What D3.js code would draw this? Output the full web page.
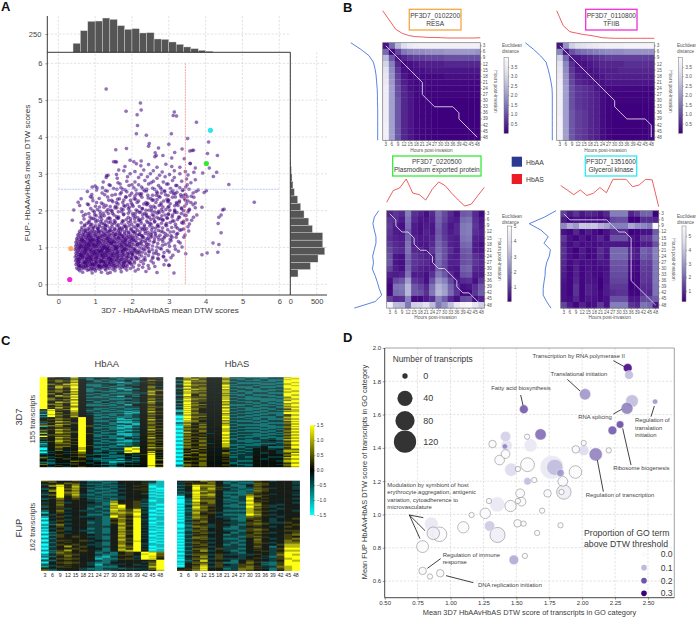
<!DOCTYPE html>
<html><head><meta charset="utf-8">
<script src="https://cdnjs.cloudflare.com/ajax/libs/d3/7.8.5/d3.min.js"></script>
<style>html,body{margin:0;padding:0;background:#fff}svg{display:block;font-family:"Liberation Sans",Arial,sans-serif}</style>
</head><body><div id="c"></div>
<script>
// ---------- Panel A data (x,y pairs in hundredths of a DTW score)
const scatterXY = [
58,37,66,33,79,38,92,31,101,36,117,33,129,39,141,32,154,37,171,34,186,39,209,36,134,30,88,39,
50,44,54,41,59,47,63,42,68,49,71,43,75,46,82,41,86,48,90,44,93,42,99,47,104,43,109,49,112,41,118,45,123,48,127,42,133,46,138,43,143,49,148,41,155,45,161,48,168,42,173,46,181,44,187,48,196,43,204,47,217,41,229,46,246,43,262,48,57,48,77,49,97,41,114,46,131,49,151,47,177,49,
48,54,51,58,56,52,60,57,62,51,67,55,70,59,74,52,78,56,81,51,85,58,88,53,91,57,95,51,98,55,103,59,106,52,111,57,115,53,119,50,122,58,126,54,130,51,134,57,137,53,142,59,146,52,150,56,157,53,163,58,166,51,172,55,178,59,183,52,190,56,199,53,207,58,219,52,231,56,244,51,258,58,287,53,301,52,73,57,93,53,110,51,128,59,153,51,176,52,194,59,
47,64,50,68,54,62,57,67,61,63,65,69,69,61,72,66,76,63,80,68,83,62,87,67,90,64,94,69,97,62,100,66,105,63,108,69,113,61,116,66,120,63,124,68,127,62,132,67,135,64,139,61,144,68,147,63,152,66,156,61,160,69,165,64,170,67,175,62,180,68,185,64,192,61,198,67,206,63,213,68,224,62,236,66,252,63,272,68,292,65,55,60,78,69,103,60,122,61,141,66,158,65,182,61,
46,74,49,78,53,71,56,76,60,73,63,79,66,72,70,77,73,74,77,71,80,78,84,73,88,76,91,71,95,79,99,74,102,72,106,77,110,73,114,79,117,71,121,76,125,73,129,78,133,72,136,76,140,71,145,78,149,74,153,72,158,77,162,73,167,79,171,74,176,71,181,78,186,73,191,76,197,72,203,78,210,74,218,71,226,77,235,73,245,78,257,74,270,71,285,76,306,72,65,75,83,75,118,78,137,71,174,78,200,71,
48,84,51,88,55,81,58,86,62,83,65,89,69,82,72,87,76,84,79,81,83,88,86,83,90,86,93,81,97,89,101,84,104,82,108,87,112,83,116,89,119,81,123,86,127,83,131,88,135,82,138,86,142,81,147,88,151,84,155,82,160,87,164,83,169,89,173,84,178,81,183,88,188,83,193,86,199,82,205,88,212,84,220,81,228,87,237,83,247,88,259,84,272,81,287,86,60,81,96,87,121,84,146,83,175,87,201,81,215,87,
46,94,49,98,53,91,56,96,60,93,63,99,67,92,70,97,74,94,77,91,81,98,84,93,88,96,91,91,95,99,99,94,102,92,106,97,110,93,114,99,117,91,121,96,125,93,129,98,133,92,136,96,140,91,145,98,149,94,153,92,158,97,162,93,167,99,171,94,176,91,181,98,186,93,191,96,197,92,203,98,210,94,218,91,226,97,235,93,245,98,255,94,266,91,280,96,296,92,318,95,72,99,89,93,108,91,132,96,156,98,179,95,208,92,232,96,
47,104,50,108,54,101,57,106,61,103,64,109,68,102,71,107,75,104,78,101,82,108,85,103,89,106,92,101,96,109,100,104,103,102,107,107,111,103,115,109,118,101,122,106,126,103,130,108,134,102,137,106,141,101,146,108,150,104,154,102,159,107,163,103,168,109,172,104,177,101,182,108,187,103,192,106,198,102,204,108,211,104,219,101,227,107,236,103,246,108,256,104,268,101,283,106,302,103,83,105,105,108,126,101,160,101,185,106,214,108,241,101,
48,114,51,118,55,111,59,116,62,113,66,119,70,112,73,117,77,114,80,111,84,118,87,113,91,116,94,111,98,119,102,114,105,112,109,117,113,113,117,119,120,111,124,116,128,113,132,118,136,112,139,116,143,111,148,118,152,114,156,112,161,117,165,113,170,119,174,114,179,111,184,118,189,113,194,116,200,112,206,118,213,114,221,111,229,117,238,113,248,118,258,114,270,111,284,116,300,112,326,116,88,119,111,115,145,112,176,117,199,119,224,113,
50,124,54,128,58,121,62,126,65,123,69,129,73,122,76,127,80,124,83,121,87,128,90,123,94,126,97,121,101,129,105,124,108,122,112,127,116,123,120,129,123,121,127,126,131,123,135,128,139,122,142,126,146,121,151,128,155,124,159,122,164,127,168,123,173,129,177,124,182,121,187,128,192,123,197,126,203,122,209,128,216,124,224,121,232,127,241,123,251,128,261,124,273,121,287,126,304,122,320,128,
53,134,57,138,61,131,66,136,70,133,74,139,78,132,82,137,86,134,90,131,94,138,98,133,102,136,106,131,110,139,114,134,118,132,122,137,126,133,131,139,135,131,139,136,143,133,148,138,152,132,156,136,161,131,166,138,171,134,175,132,180,137,185,133,191,139,196,134,202,131,208,138,214,133,221,136,228,132,236,138,244,134,254,131,264,137,276,133,290,138,306,132,
58,144,63,148,68,141,73,146,78,143,84,149,89,142,93,147,98,144,103,141,108,148,113,143,118,146,123,141,128,149,133,144,138,142,143,147,149,143,154,149,159,141,164,146,169,143,174,148,180,142,185,146,191,141,197,148,203,144,209,142,215,147,222,143,229,149,236,144,244,141,253,148,262,143,272,146,284,142,297,148,313,143,330,147,
64,154,72,158,80,151,86,156,94,153,101,159,108,152,113,157,121,154,127,151,133,158,140,153,146,156,153,151,159,159,166,154,172,152,178,157,185,153,192,159,198,151,205,156,211,153,218,158,225,152,233,156,240,151,248,158,256,154,264,152,273,157,283,153,294,159,308,154,324,152,340,150,352,156,
62,167,71,161,83,168,91,163,102,169,111,162,119,166,128,161,137,168,146,163,155,169,163,162,172,166,181,161,190,168,199,163,208,169,216,162,225,166,234,161,243,168,252,163,261,169,270,162,280,166,291,161,304,168,318,163,335,167,356,164,
70,177,84,172,95,179,107,173,118,176,129,171,141,178,152,173,163,179,174,172,185,176,196,171,207,178,218,173,229,179,240,172,251,176,262,171,273,178,284,173,296,179,310,172,324,176,340,171,362,174,
68,186,86,183,99,189,113,182,125,186,138,181,151,188,164,183,177,189,190,182,203,186,216,181,229,188,242,183,255,189,268,182,281,186,295,181,310,188,327,183,347,187,367,182,
64,197,83,192,98,196,114,191,131,198,147,193,163,197,178,191,194,199,209,192,224,196,239,191,254,198,269,193,284,197,299,191,316,199,334,192,352,196,376,188,
42,202,88,206,106,203,124,209,143,201,159,208,176,203,193,209,211,202,228,206,246,201,263,208,280,203,298,209,316,202,334,207,356,204,372,208,
58,214,79,218,101,212,122,217,141,211,162,218,181,212,201,216,220,211,241,218,259,212,279,216,300,211,321,218,343,212,366,216,390,209,
38,174,54,223,94,227,117,221,137,228,158,222,178,229,198,221,218,226,238,222,258,229,279,221,298,227,321,222,345,228,372,221,
62,232,87,238,111,233,134,237,161,231,183,238,206,232,227,236,251,233,273,239,295,231,318,237,342,233,368,236,
91,244,119,248,146,242,171,249,194,241,221,246,243,242,269,248,291,243,317,246,341,242,361,239,
79,252,104,256,133,253,159,258,186,251,211,256,239,253,261,258,289,252,311,254,339,257,374,252,396,249,
92,264,120,262,150,260,175,258,205,262,230,259,256,261,280,258,305,260,330,262,355,258,380,256,402,254,
100,267,138,270,168,272,192,268,218,270,245,272,272,268,298,272,322,268,350,270,
122,278,162,276,186,280,208,278,235,282,258,280,285,278,310,282,335,280,360,276,
130,290,160,288,188,292,218,290,242,292,268,288,290,292,315,290,348,286,372,284,
135,296,158,298,195,300,225,298,250,300,275,296,302,298,330,300,352,297,
131,295,164,310,178,308,208,306,232,310,258,308,282,305,315,308,345,306,368,304,392,302,
150,333,155,333,158,332,195,337,205,333,212,327,224,322,245,325,268,318,292,326,308,320,330,318,358,328,372,316,410,316,
181,320,225,335,262,346,284,350,308,343,342,341,358,328,405,355,432,350,
156,365,185,369,247,382,245,375,272,370,300,380,336,367,357,362,363,363,367,364,263,357,266,350,316,358,
130,530,223,492,225,473,184,470,214,460,315,468,312,458,321,457,215,431,375,440,212,409,239,405,307,409,351,396,408,386,
430,304,421,293,463,271,532,223,450,204,446,202,442,188,436,182,434,165,442,140,420,112,436,108,433,87,404,85,390,80,314,31,268,32,238,35,300,52,
];
// second reading of the same cloud: the dense middle and upper body
const scatterBodyXY = [
55,52,61,78,67,47,74,91,79,60,85,112,92,55,98,83,103,71,109,127,114,64,120,96,126,52,131,88,137,117,142,73,148,58,153,104,159,82,164,126,170,67,176,93,181,115,187,74,192,130,197,58,
58,99,64,121,70,84,76,108,81,133,87,66,93,120,99,103,105,79,111,48,116,92,122,74,128,133,133,98,139,55,144,113,150,78,155,135,161,89,166,60,172,108,178,128,183,96,189,66,194,110,200,87,
56,68,62,104,68,116,73,59,78,97,83,128,89,75,95,108,100,53,106,119,112,88,117,62,123,101,129,79,134,124,140,92,145,66,151,116,156,96,162,75,167,135,173,102,179,57,184,123,190,82,195,102,201,126,
206,96,211,73,216,109,221,88,226,132,231,66,236,118,241,109,246,90,251,135,256,71,261,116,266,84,271,128,276,98,281,122,286,74,291,109,296,133,301,88,306,118,311,79,316,104,321,136,326,90,331,112,336,101,341,128,346,83,
203,142,209,118,214,160,219,135,224,172,229,128,234,150,239,186,244,125,249,166,254,140,259,178,264,132,269,158,274,195,279,144,284,176,289,130,294,165,299,190,304,142,309,128,314,172,319,156,324,138,329,182,334,148,339,166,344,134,349,175,354,145,
72,148,78,165,85,140,90,178,96,155,103,186,109,144,115,170,122,193,128,158,134,178,140,146,146,199,152,166,158,184,165,150,171,205,177,172,183,156,190,193,196,178,203,212,209,184,215,199,221,176,228,205,234,192,240,216,247,182,253,205,259,187,265,222,272,198,278,178,284,210,290,188,297,224,303,201,309,183,316,213,322,195,329,226,335,205,342,188,348,219,355,201,
88,162,94,200,100,176,106,152,112,210,118,185,124,164,130,214,136,192,142,170,148,224,154,207,160,179,166,232,172,197,178,214,184,236,190,205,196,228,202,192,208,240,214,222,220,195,226,246,232,218,238,201,244,234,250,212,256,242,262,196,268,230,274,214,280,248,286,226,292,203,298,241,304,219,310,236,316,195,322,250,328,223,334,238,340,200,346,244,352,226,
74,190,82,216,92,235,104,222,113,198,126,243,135,203,145,228,155,212,168,245,175,222,188,216,199,247,210,231,223,242,234,254,243,220,255,228,267,251,276,236,288,254,300,229,313,246,325,214,337,255,350,238,360,222,
105,262,128,255,141,268,155,244,170,262,182,256,200,270,213,246,226,264,240,258,252,276,266,242,277,262,294,272,306,250,319,268,332,243,346,264,366,248,
];
const hotGenes = [[0.34,0.97,"#f6ae5e"],[0.31,0.13,"#f025d8"],[4.13,4.18,"#2ee6ef"],[4.02,3.28,"#35e835"]];
const topHistCounts = [123,295,423,427,468,450,364,314,323,264,268,182,177,141,109,73,50,27,14];
const rightHistCounts = [146,380,525,652,614,614,418,348,260,196,139,76,50,32,19,6];
const thresholdX = 3.45, thresholdY = 2.58;

// ---------- Panel B data
const hours = [3,6,9,12,15,18,21,24,27,30,33,36,39,42,45,48];
const resaMatrix = [
[.2,1.3,2.5,3.2,3.5,3.6,3.7,3.7,3.7,3.7,3.7,3.7,3.7,3.7,3.7,3.7],
[1.3,.1,.9,1.5,1.7,1.8,1.8,1.9,1.9,1.9,2,2,2,2,2,1.9],
[2.5,1.1,.3,.5,.7,.8,.8,.9,.9,.9,1,1,1,1,1,1],
[3,1.6,.5,.1,.2,.3,.4,.4,.4,.4,.5,.5,.5,.5,.5,.5],
[3.3,1.8,.7,.2,.1,.2,.2,.3,.3,.3,.3,.3,.3,.3,.3,.3],
[3.4,1.9,.8,.3,.1,.1,.1,.1,.1,.1,.2,.2,.2,.2,.2,.2],
[3.5,2,.9,.4,.2,.1,.1,.1,.1,.1,.1,.1,.1,.1,.1,.1],
[3.6,2.1,1,.5,.2,.1,.1,.05,.05,.05,.05,.05,.05,.05,.05,.05],
[3.6,2.1,1,.5,.3,.1,.05,.05,.05,.05,.05,.05,.05,.05,.05,.05],
[3.6,2.1,1.1,.5,.3,.1,.05,.05,0,0,0,0,0,0,0,0],
[3.6,2.1,1.1,.5,.3,.1,.05,.05,0,0,0,0,0,0,0,0],
[3.6,2.1,1.1,.5,.3,.1,.05,.05,0,0,0,0,0,0,0,0],
[3.6,2.1,1.1,.5,.3,.1,.05,.05,0,0,0,0,0,0,0,0],
[3.7,2.1,1.1,.5,.3,.1,.05,.05,0,0,0,0,0,0,0,0],
[3.7,2.1,1.1,.5,.3,.1,.05,.05,0,0,0,0,0,0,0,0],
[3.7,2.1,1.1,.5,.3,.1,.05,.05,0,0,0,0,0,0,0,0]];
const tfiibMatrix = [
[.2,1.9,2.9,3.2,3.3,3.4,3.5,3.6,3.7,3.7,3.7,3.8,3.8,3.8,3.8,3.8],
[1.7,.3,1,1.3,1.4,1.5,1.6,1.7,1.8,1.8,1.8,1.9,1.9,1.9,1.9,1.9],
[2.9,1.3,.3,.3,.4,.5,.6,.7,.8,.8,.8,.8,.8,.8,.8,.8],
[3.3,1.7,.6,.2,.2,.3,.4,.5,.5,.5,.5,.6,.6,.6,.6,.6],
[3.4,1.8,.7,.3,.2,.2,.3,.4,.4,.4,.5,.5,.5,.5,.5,.5],
[3.5,1.9,.8,.4,.3,.2,.2,.3,.4,.4,.4,.4,.4,.4,.4,.4],
[3.6,2,.9,.5,.4,.3,.2,.2,.3,.3,.3,.3,.3,.3,.3,.3],
[3.7,2.1,1,.7,.6,.5,.3,.1,.1,.1,.1,.1,.1,.1,.1,.1],
[3.7,2.1,1,.7,.6,.5,.4,.15,.05,.05,.05,.05,.05,.05,.05,.05],
[3.7,2.1,1,.7,.6,.5,.4,.15,.05,.05,.05,.05,.05,.05,.05,.05],
[3.7,2.1,1,.7,.6,.5,.4,.15,.05,0,0,0,0,0,0,0],
[3.7,2.1,1.1,.8,.7,.5,.4,.15,.05,0,0,0,0,0,0,0],
[3.8,2.1,1.1,.8,.7,.5,.4,.15,.05,0,0,0,0,0,0,0],
[3.8,2.1,1.1,.8,.7,.5,.4,.15,.05,0,0,0,0,0,0,0],
[3.8,2.1,1.1,.8,.7,.5,.4,.15,.05,0,0,0,0,0,0,0],
[3.8,2.1,1.1,.8,.7,.5,.4,.15,.05,0,0,0,0,0,0,0]];
const exportedMatrix = [
[.6,.9,.7,2,.8,.6,.3,.7,1.7,1.2,.7,.3,1.4,1.5,.7,.2],
[.9,.8,.5,1.8,.7,.4,.4,.6,1.6,1.1,.6,.5,1.7,1.8,.8,.4],
[1,.5,.3,1.7,.5,.3,.5,.4,1.5,.9,.4,.7,1.9,2,.9,.5],
[.9,.5,.4,1.5,.5,.3,.6,.4,1.4,.9,.5,.7,1.9,2,.8,.6],
[.8,.6,.5,1.6,.6,.4,.5,.6,1.5,1,.6,.5,1.8,1.9,.6,.5],
[1,.7,.6,1.8,.5,.4,.4,.7,1.6,1.2,.6,.5,1.6,1.7,.5,.3],
[1.2,.8,.7,1.8,.7,.6,.3,.9,1.7,1.3,.8,.4,1.4,1.5,.5,.4],
[1.3,.4,.3,1.6,.9,.7,.6,.5,1.8,1.3,.6,.5,1.3,1.4,.8,.6],
[1.4,.4,.3,1.5,.9,.8,.7,.4,1.7,1.2,.6,.6,1.3,1.4,.9,.7],
[1.1,.5,.3,1.6,.8,.6,.5,.5,1.5,1.1,.5,.4,1.5,1.6,.7,.6],
[.6,.5,.6,1.8,.5,.5,.3,.8,1.9,1.4,.7,.3,1.3,1.4,.5,.5],
[.3,1.2,1.4,2.6,.9,.7,.3,1.3,2.5,2.1,1.2,.4,.7,.8,.3,.9],
[.1,1.8,1.9,3.1,1.4,1.1,.7,1.8,3,2.6,1.6,.8,.3,.4,.8,1.4],
[.2,1.7,1.8,3.1,1.4,1.3,.8,1.9,3.1,2.7,1.7,.9,.2,.2,.9,1.5],
[1.1,.7,.8,2.1,.2,.2,.5,.8,2.1,1.5,.7,.3,1.2,1.3,.3,.6],
[4.7,3.2,3.1,1.9,3.6,3.7,4.1,3.2,1.9,2.5,3.3,4.3,4.8,4.9,4.2,3.6]];
const glycerolMatrix = [
[1.3,.7,1.1,.6,.9,.8,.5,.9,2.4,2.4,2.4,.8,1.2,1.9,1.9,.2],
[.7,.3,.5,.4,.4,.4,.3,.5,1.5,1.6,1.6,.2,.2,1,1,.9],
[2.6,3.4,3,4,3.9,4,3.5,3.2,2.4,2.4,2.4,3.3,2.8,2.6,2.3,5.7],
[.5,.3,.9,.3,.7,.4,.2,.5,1,1,1,.2,.3,.5,.5,1.8],
[1.2,.5,.3,.6,.3,.5,.9,.4,1.6,1.6,1.6,.6,.4,1.2,1.2,2.2],
[.9,.4,.7,.4,.5,.4,.5,.6,.6,.6,.6,.3,.3,.7,.7,1.6],
[1.1,.5,.2,.7,.3,.4,1,.6,2,2,2,.8,.7,1.9,1.7,2.5],
[1,.5,.3,.6,.3,.4,.9,.5,2,2,2,.8,.7,1.8,1.6,2.5],
[.9,.4,.7,.4,.5,.4,.6,.6,1.7,1.7,1.7,.4,.4,1.4,1.3,2.3],
[.8,.3,.8,.3,.5,.4,.4,.5,1.6,1.6,1.6,.4,.4,1.3,1.2,2.3],
[.7,.3,.8,.3,.6,.4,.3,.6,1.5,1.5,1.5,.3,.3,1.2,1.2,2.3],
[.6,.3,.9,.3,.6,.5,.2,.6,1.4,1.4,1.4,.2,.3,1.2,1.1,2.3],
[.5,.3,1.1,.3,.8,.6,.2,.7,1.2,1.2,1.2,.2,.3,1,1,2.2],
[.5,.3,1.1,.3,.8,.6,.3,.7,1,1.1,1.1,.3,.3,1,.9,2.2],
[.5,.4,.9,.3,.6,.5,.3,.5,1.6,1.6,1.6,.6,.6,1.5,1.5,1.8],
[1.4,.7,.3,.8,.4,.5,1.2,.5,2.4,2.4,2.4,1.1,.9,2.2,2,.6]];
const resaHbAS = [1,.66,.32,.17,.09,.05,.04,.02,.02,.01,0,0,0,0,0,.01];
const resaHbAA = [1,.63,.32,.16,.1,.06,.04,.02,.01,.01,0,0,0,0,0,0];
const tfiibHbAS = [1,.46,.24,.19,.14,.11,.07,.02,.01,0,0,0,0,0,0,0];
const tfiibHbAA = [1,.7,.44,.23,.16,.1,.05,.01,0,0,0,0,0,0,0,0];
const exportedHbAS = [.14,.57,.67,1,.48,.42,.22,.62,.89,.75,.47,.22,0,.07,.38,.69];
const exportedHbAA = [.11,.27,.32,.27,.21,.21,.27,.33,.3,.34,.24,.16,.09,0,.24,1];
const glycerolHbAS = [.77,.61,.44,.61,.41,.49,.7,.51,1,1,1,.73,.79,1,.98,0];
const glycerolHbAA = [0,.44,1,.56,.29,.45,.21,.25,.35,.4,.41,.45,.48,.48,.35,.19];
const resaPath = [[0,0],[1,1],[2,2],[3,3],[4,4],[5,5],[6,6],[6,8],[7,9],[8,10],[11,10],[12,11],[12,12],[13,13],[14,14],[15,15]];
const tfiibPath = [[0,0],[9,9],[9,10],[10,11],[11,12],[14,12],[15,13],[15,15]];
const exportedPath = [[0,0],[1,1],[1,2],[2,3],[3,3],[4,4],[4,5],[5,6],[6,6],[7,7],[7,8],[8,9],[9,9],[10,10],[11,11],[11,12],[12,13],[13,13],[14,14],[15,15]];
const glycerolPath = [[0,0],[1,1],[7,1],[8,2],[9,3],[10,3],[11,4],[11,11],[15,15]];

// ---------- Panel C data (each digit is one step on the colour bar, cyan 0 to yellow 9)
const heat3D7HbAA = ["9654843332322564","9543732443233453","9565742323233465","9676853232342576","9576854232232354","9465743322123465","9657943343323565","9768852234233454","9476842233243464","9587943232334573","9686953323224574","9475842342132465","9565842333213566","9676952232324577","9675742322333485","9564843433223374","9757843232223375","9646752323332486","9486953323233466","9577843232142565","9656842223334565","9745953332223476","9767743332233574","9656842323343563","9576954233223486","9487853242232375","9665843323233475","9774942232314564","9475852222324565","9566743333233476","9686844332233566","9575953223322575","4967953232323574","6865842323232465","2955843322212486","3974753233321575","3965744332212565","1866743222323476","5975744232323465","2965855323223564","3565694222223574","4476595233132465","4676595332112586","5565494223223475","6587494223112465","3676695332112576","2566694332321574","6487495232231465","7775496323112566","1675596332213475","4466595222112575","5566494232123566","6687494332223486","7576595323212474","3576694233123466","2487694322233575","8576496323112465","4666495233112566","7677595222212575","9566594232323465","5587494332232486","6476695322143475","3476595233223566","4587494323212576","2686694322112475","3576595232223466","1577595223223565","2466694333123574","2466496332223576","3577495222332465","1575585232289487","0464485323398576","0465484323398566","2574594232289465","1343685233389585","0454575342398476","2353674332434594","3464563223343685","4454563432243593","3345674432234594","7365463322342596","6456453233243495","5243553222133597","4354664322332596","3354764321123595","2245553431233594","6233643432344596","7344654322433597","5464554543455485","4353565432344496"];
const heat3D7HbAS = ["4867548332223389","5776447223323398","3786447323232289","2867558332232299","5977558233322399","4866447322233298","2866457322222289","3977548233322389","4876449333233298","5766458222322299","3967548322322399","2877449332233389","5787457233232289","4966548323222398","3877448322223388","5876458232332289","4866557332332299","3957448223223398","2957547323222398","4766558332332289","4866458232233279","3877548322222388","3976448332222288","2866559233322279","5866447322323299","4975448332232398","2965458333232278","3877547222323289","4975448223222389","2866459333233278","3966447322323288","4875558232222379","2974559332232368","1865448322323288","1965458233223378","3875549332232299","3976447322322299","2866558233223268","1866448332233268","0977549322322379","0975448223222389","1866458332232278","1966559333232278","0875447222323389","0874458322223368","2766558333232279","2756447233322278","1857458322223368","1766458322222369","0757549233322278","0657559332232279","1766448322222368","1766448233323268","0657558332232379","0757458322222378","1866449233323268","1665359333232379","0756458322222278","0756458233223368","1665549332232379","1767548322322278","0756458233323268","0666459232333289","1757548322234378","1757448322233368","0666459332333279","0766358333222379","1757448222233368","1657448232234368","0766558323342279","0766557323342269","1657446232443368","1575446333443477","0666545323454388","0656445232454388","1575447333435377","1766447323435369","0657556233544478","0557556333544478","1766446232443369","1666445232443389","0557546333534478","0557455333534578","1666546322445389","1766546322445389","0557445233544578","0657445233544468","1767556322455379","2767556432455479","1656445333544568"];
const heatFUPHbAA = ["7644632233445331","5755543322454431","4557643323554621","6466732233445511","3795743322345611","4886854233456501","5495832332444501","3596743223354610","2697853223356410","4795742332445601","4896742322445510","3597853223355411","5497743233354601","2696832322445310","3796832322445411","5495743233344501","4595733323344510","3674642232355411","2475643232355311","4564553323445301","5464553238456301","3573544327556411","3563544328556211","4474543329656310","6475443327956310","3565553238956201","2564553238956411","5463442327856310","4453442329868310","2574533338769401","3574533238768301","1463453328878310","1464453327879311","3354442237769401","5353442238769400","1563533329758311","2564533329658411","0354544326869401","0453544326769301","2463453325759311","1364453325759410","0354442326769301","0453442326859401","1273553325859411","2374553325769301","0464443334769410","1563443334859311","2353442324859401","0353442324759410","1463533325869311","1464533325769400","0254442324759401","0353442324869311","2365554335769410","1264554335859301","0364653325849401","0465653325759410","2255544324769311","1354544324869501","0366563435859410","0465563435768401","2256554324769401","1355554324759310","0365653325759311","0466653325869411","1258564334869301","1357564334779401","0355654425769410","0456654425859301","2268565324889401","1367565324789511","0276554232465987","0376555232565997","2366654322564896","1467654322664997","2257545213453986","2356545213553996","0566645122564985","1467645122663995","3255544323545459","2356544323445569","0566653224455369","1467653224554479","2455553133343479","3356553133443369","1365544222455489","2466544222554589","5444532233233369","6345532233333479","7234433223444358"];
const heatFUPHbAS = ["4557653233653553","3656742322554453","3465742322764443","4556653233664553","2698843224765554","3587754224654443","4597762323654553","2496853323763443","3497864232665443","4586753322764554","2488753323765554","3397642222654553","3396742223654454","2587853327553443","3598852327664543","0486742238754444","0497743238655444","1386653239564453","0386652339554553","0297742238655454","0397743238564454","0376742329654443","0285743329754443","1286643238754354","0376642238863354","0487642229653445","1397543229763445","0286553338754354","0387653338654354","1377542228653453","0276542228763453","0386633338754445","1385633338654445","0375542229853454","0476542229763454","1276433327754344","0387433327654344","0376543226643456","1276543226553456","0356454325743455","0467454325653455","1267443336653365","1376443336763365","0355354326764456","0266354326654456","0276353235643465","0377353235553465","1356452236654455","1267452236764455","0266443326764566","0376443326654566","1356354235653456","1467354235763456","0265442336644467","0356442336554467","1366453326754565","0477453326664565","0276342234643467","1367342234753467","0355453325744576","0466453325654576","1265343234753477","0376343234663477","0356452325644688","1467452325554688","0265343334742488","0356343334652488","1366463325653699","0477463325543699","0257353234653588","1368353234563588","1355454324543699","0466454324453699","0266363333643798","1377363333553798","1457464434432699","0568464434542699","1366363335633689","0477363335543689","0258454246543598","1369454246453598","1366362257622699","0477362257532699","1457464366522699","0568464366432699","0468363367633789","1579363367543789","4568552377632689","5679552377542689","6578543376542589"];
const digitToZ = [-1.5,-1.05,-.62,-.3,-.08,.08,.3,.62,1.05,1.5];

// ---------- Panel D data
const goX = [2.346,2.356,2.022,1.557,2.379,2.341,2.554,2.23,2.288,1.684,1.418,1.426,1.413,1.319,1.582,1.608,1.418,1.373,2.012,1.952,2.012,2.202,2.103,1.461,1.512,1.585,1.77,1.792,1.835,1.949,1.585,1.636,1.853,1.529,1.737,1.843,1.861,1.292,1.355,1.456,1.512,1.539,1.696,1.16,1.264,.854,.869,.917,1.097,1.297,1.357,1.509,1.555,1.658,1.835,.788,1.481,1.565,.788,.844,.922];
const goY = [1.88,1.838,1.722,1.632,1.682,1.638,1.678,1.505,1.54,1.481,1.469,1.415,1.409,1.423,1.467,1.415,1.363,1.327,1.429,1.391,1.385,1.385,1.361,1.269,1.273,1.299,1.283,1.283,1.249,1.255,1.199,1.207,1.199,1.127,1.127,1.135,1.135,1.081,1.061,1.051,1.081,1.077,1.023,.997,1.007,.943,.887,.881,.923,.931,.877,.947,.945,.889,.935,.807,.727,.751,.661,.627,.647];
const goN = [5,5,15,5,22,18,0,5,2,15,11,15,0,2,0,26,5,8,0,2,11,0,26,26,0,30,140,50,2,22,2,0,8,5,2,0,35,0,40,15,0,5,0,0,11,30,22,35,15,11,40,2,0,0,0,18,8,0,2,0,2];
const goP = [.3,.1,.14,.2,.1,.16,.14,.2,.22,.18,.07,.04,.16,0,0,.03,0,0,0,0,.05,0,.16,.05,0,0,.03,.1,.14,0,.1,0,0,0,0,0,.02,0,.03,0,0,0,0,0,0,.03,.02,0,0,.08,.02,0,0,0,0,0,.12,0,0,0,0];
const sizeLegend = [0,40,80,120];
const propLegend = [0,.1,.2,.3];

// ---------- drawing
const W=696,H=618;
const svg=d3.select("#c").append("svg").attr("width",W).attr("height",H).attr("viewBox",[0,0,W,H]);
const defs=svg.append("defs");
const TXT="#3a3a3a";
function text(x,y,s,o={}){return svg.append("text").attr("x",x).attr("y",y).text(s)
  .attr("font-size",o.size||7).attr("fill",o.fill||TXT).attr("text-anchor",o.anchor||"start")
  .attr("font-weight",o.weight||null).attr("transform",o.rot?`rotate(${o.rot} ${x} ${y})`:null);}
function styleAxis(g,size,col,hideDomain=true){g.selectAll("text").attr("font-size",size).attr("fill",col).attr("font-family","inherit");
  g.selectAll(".tick line").attr("stroke",col).attr("stroke-width",.5);
  if(hideDomain)g.select(".domain").remove();}
[["A",1,11],["B",343,12],["C",1,345],["D",343,342]].forEach(d=>text(d[1],d[2],d[0],{size:13,weight:"bold",fill:"#111"}));

// ---- A
const ax=d3.scaleLinear().domain([0,6]).range([58.3,279.3]);
const ay=d3.scaleLinear().domain([0,6]).range([284.3,63.3]);
const L=47.3,R=290.3,T=52.3,B=295;
const histTop=d3.scaleLinear().domain([0,250]).range([T,T-18.3]);
const histRight=d3.scaleLinear().domain([0,500]).range([R,316.7]);
const gA=svg.append("g");
const gridStyle=s=>s.attr("stroke","#cfcfcf").attr("stroke-width",.6).attr("stroke-dasharray","2.2 1.6");
[0,1,2,3,4,5,6].forEach(v=>{
  gridStyle(gA.append("line").attr("x1",ax(v)).attr("x2",ax(v)).attr("y1",16).attr("y2",B));
  gridStyle(gA.append("line").attr("x1",L).attr("x2",327).attr("y1",ay(v)).attr("y2",ay(v)));
});
gridStyle(gA.append("line").attr("x1",L).attr("x2",R).attr("y1",histTop(250)).attr("y2",histTop(250)));
[0,500].forEach(v=>gridStyle(gA.append("line").attr("x1",histRight(v)).attr("x2",histRight(v)).attr("y1",T).attr("y2",B)));
gA.selectAll(".tb").data(topHistCounts).join("rect").attr("x",(d,i)=>ax(.4+i*.2)).attr("width",ax(.2)-ax(0))
  .attr("y",d=>histTop(d)).attr("height",d=>T-histTop(d)).attr("fill","#555").attr("stroke","#ddd").attr("stroke-width",.4);
gA.selectAll(".rb").data(rightHistCounts).join("rect").attr("y",(d,i)=>ay(.2+(i+1)*.2)).attr("height",ay(0)-ay(.2))
  .attr("x",R).attr("width",d=>histRight(d)-R).attr("fill","#555").attr("stroke","#ddd").attr("stroke-width",.4);
const allXY=scatterXY.concat(scatterBodyXY);
const pts=d3.range(0,allXY.length,2).map(i=>[allXY[i]/100,allXY[i+1]/100]);
gA.selectAll(".pt").data(pts).join("circle").attr("cx",d=>ax(d[0])).attr("cy",d=>ay(d[1])).attr("r",1.75)
  .attr("fill","#3f007d").attr("fill-opacity",.55).attr("stroke","#3f007d").attr("stroke-opacity",.25).attr("stroke-width",.3);
gA.append("line").attr("x1",ax(thresholdX)).attr("x2",ax(thresholdX)).attr("y1",ay(6)).attr("y2",ay(0)-.5)
  .attr("stroke","#f08080").attr("stroke-width",.7).attr("stroke-dasharray","2 .8");
gA.append("line").attr("x1",ax(0)).attr("x2",ax(6)).attr("y1",ay(thresholdY)).attr("y2",ay(thresholdY))
  .attr("stroke","#9db4f5").attr("stroke-width",.7).attr("stroke-dasharray","2 .8");
gA.selectAll(".hot").data(hotGenes).join("circle").attr("cx",d=>ax(d[0])).attr("cy",d=>ay(d[1])).attr("r",2.6).attr("fill",d=>d[2]);
let g=svg.append("g").attr("transform",`translate(0,${B})`).call(d3.axisBottom(ax).tickValues([0,1,2,3,4,5,6]).tickFormat(d3.format("d")).tickSize(0).tickPadding(4));styleAxis(g,7.5,"#444");
g=svg.append("g").attr("transform",`translate(0,${B})`).call(d3.axisBottom(histRight).tickValues([0,500]).tickSize(0).tickPadding(4));styleAxis(g,7.5,"#444");
g=svg.append("g").attr("transform",`translate(${L},0)`).call(d3.axisLeft(ay).tickValues([0,1,2,3,4,5,6]).tickFormat(d3.format("d")).tickSize(2).tickPadding(3));styleAxis(g,7.5,"#444");
g=svg.append("g").attr("transform",`translate(${L},0)`).call(d3.axisLeft(histTop).tickValues([250]).tickSize(2).tickPadding(4));styleAxis(g,7.5,"#444");
const axisLine=(x1,y1,x2,y2,w=.9,c="#222")=>svg.append("line").attr("x1",x1).attr("y1",y1).attr("x2",x2).attr("y2",y2).attr("stroke",c).attr("stroke-width",w);
axisLine(L,16,L,B);axisLine(L,B,R,B);axisLine(L,T,R,T);axisLine(R,T,R,B);axisLine(R,B,327,B);
text(170,313,"3D7 - HbAAvHbAS mean DTW scores",{size:8.1,anchor:"middle"});
text(30,173,"FUP- HbAAvHbAS mean DTW scores",{size:8.1,anchor:"middle",rot:-90});

// ---- B
const purple=v=>d3.interpolatePurples(v);
function gradient(id,fn){const lg=defs.append("linearGradient").attr("id",id).attr("x1",0).attr("x2",0).attr("y1",1).attr("y2",0);
  d3.range(0,1.001,.1).forEach(t=>lg.append("stop").attr("offset",t).attr("stop-color",fn(t)));}
gradient("gPur",t=>purple(.02+(1-t)*.98));
gradient("gCy",t=>d3.scaleLinear().domain([0,.5,1]).range(["#00ffff","#000","#ffff00"])(t));
const panels=[
 {m:resaMatrix,s:resaHbAS,a:resaHbAA,p:resaPath,x:382.7,y:42.7,w:97.6,h:97.6,box:[409.3,9.3,51.7,20.7],c:"#f5a742",t:["PF3D7_0102200","RESA"],cb:[504,57.3,4.3,76],dom:[0,4],ticks:[.5,1,1.5,2,2.5,3,3.5],red:[38,10.7],blue:[377.7,350.7],yl:151.7,rl:494,ct:502,cty:47},
 {m:tfiibMatrix,s:tfiibHbAS,a:tfiibHbAA,p:tfiibPath,x:556.7,y:42.7,w:97.6,h:97.6,box:[585.7,9.3,51.3,20.7],c:"#f22fd6",t:["PF3D7_0110800","TFIIB"],cb:[678.7,57.3,4,76],dom:[0,4],ticks:[.5,1,1.5,2,2.5,3,3.5],red:[38.3,10.7],blue:[552.3,525.3],yl:151.7,rl:668.7,ct:677,cty:47},
 {m:exportedMatrix,s:exportedHbAS,a:exportedHbAA,p:exportedPath,x:386.7,y:210.7,w:97.6,h:97.4,box:[392.7,156,88.3,20],c:"#35ec35",t:["PF3D7_0220500","Plasmodium exported protein"],cb:[507.7,226,3.6,75.7],dom:[.05,5],ticks:[1,2,3,4,5],red:[206,179],blue:[381.7,354.3],yl:319,rl:497.7,ct:502,cty:218},
 {m:glycerolMatrix,s:glycerolHbAS,a:glycerolHbAA,p:glycerolPath,x:560.7,y:210.7,w:98,h:97.4,box:[585.3,156,51.4,20],c:"#2ee8f0",t:["PF3D7_1351600","Glycerol kinase"],cb:[682,226,4,75.7],dom:[.2,5.75],ticks:[1,2,3,4,5],red:[206.7,179.3],blue:[556,529.3],yl:319,rl:671.7,ct:677,cty:218}
];
panels.forEach((P,pi)=>{
  const X=d3.scaleBand().domain(hours).range([P.x,P.x+P.w]);
  const Y=d3.scaleBand().domain(hours).range([P.y,P.y+P.h]);
  const gg=svg.append("g");
  P.m.forEach((row,r)=>row.forEach((v,c)=>{
    const t=(v-P.dom[0])/(P.dom[1]-P.dom[0]);
    gg.append("rect").attr("x",X(hours[c])).attr("y",Y(hours[r])).attr("width",X.bandwidth()+.3).attr("height",Y.bandwidth()+.3)
      .attr("fill",purple(1-Math.max(0,Math.min(1,t))*.98));
  }));
  gg.append("rect").attr("x",P.x).attr("y",P.y).attr("width",P.w).attr("height",P.h).attr("fill","none").attr("stroke","#777").attr("stroke-width",.7);
  const warp=d3.line().x(d=>X(hours[d[0]])+X.bandwidth()/2).y(d=>Y(hours[d[1]])+Y.bandwidth()/2);
  gg.append("path").attr("d",warp(P.p)).attr("fill","none").attr("stroke","#d9d4ea").attr("stroke-width",.9);
  g=svg.append("g").attr("transform",`translate(0,${P.y+P.h})`).call(d3.axisBottom(X).tickSize(1.5).tickPadding(1));styleAxis(g,4.6,"#555");
  g=svg.append("g").attr("transform",`translate(${P.x+P.w},0)`).call(d3.axisRight(Y).tickSize(1.5).tickPadding(1));styleAxis(g,4.6,"#555");
  text(P.x+P.w/2,P.yl,"Hours post-invasion",{size:4.8,anchor:"middle",fill:"#555"});
  text(P.rl,P.y+P.h/2,"Hours post-invasion",{size:4.8,anchor:"middle",fill:"#555",rot:90});
  const px=d3.scalePoint().domain(d3.range(16)).range([P.x,P.x+P.w]);
  const py=d3.scaleLinear().domain([0,1]).range(P.red);
  svg.append("path").attr("d",d3.line().x((d,i)=>px(i)).y(d=>py(d))(P.s)).attr("fill","none").attr("stroke","#e8363a").attr("stroke-width",.8);
  const qy=d3.scalePoint().domain(d3.range(16)).range([P.y,P.y+P.h]);
  const qx=d3.scaleLinear().domain([0,1]).range(P.blue);
  svg.append("path").attr("d",d3.line().x(d=>qx(d)).y((d,i)=>qy(i))(P.a)).attr("fill","none").attr("stroke","#2f63d6").attr("stroke-width",.8);
  svg.append("rect").attr("x",P.box[0]).attr("y",P.box[1]).attr("width",P.box[2]).attr("height",P.box[3]).attr("fill","#fff").attr("stroke",P.c).attr("stroke-width",1.3);
  text(P.box[0]+P.box[2]/2,P.box[1]+8.2,P.t[0],{size:6.6,anchor:"middle"});
  text(P.box[0]+P.box[2]/2,P.box[1]+16.2,P.t[1],{size:6.6,anchor:"middle"});
  const cb=P.cb;
  svg.append("rect").attr("x",cb[0]).attr("y",cb[1]).attr("width",cb[2]).attr("height",cb[3]).attr("fill","url(#gPur)").attr("stroke","#777").attr("stroke-width",.5);
  const cs=d3.scaleLinear().domain(P.dom).range([cb[1]+cb[3],cb[1]]);
  g=svg.append("g").attr("transform",`translate(${cb[0]+cb[2]},0)`).call(d3.axisRight(cs).tickValues(P.ticks).tickFormat(P.ticks[0]<1?d3.format(".1f"):d3.format("d")).tickSize(1).tickPadding(1.5));styleAxis(g,4.8,"#555");
  text(P.ct,P.cty,"Euclidean",{size:4.6,fill:"#555"});
  text(P.ct,P.cty+6,"distance",{size:4.6,fill:"#555"});
});
svg.append("rect").attr("x",511.7).attr("y",156.7).attr("width",10.3).attr("height",10).attr("fill","#2b3990");
svg.append("rect").attr("x",511.7).attr("y",174).attr("width",10.3).attr("height",10).attr("fill","#ed1c24");
text(526,164.5,"HbAA",{size:6.8});text(526,182,"HbAS",{size:6.8});

// ---- C
const cyanYellow=d3.scaleLinear().domain([-1.5,0,1.5]).range(["#00ffff","#000","#ffff00"]);
const heatPanels=[[heat3D7HbAA,39.7,377.3,123.3,89.7],[heat3D7HbAS,175.7,377.3,123.3,89.7],[heatFUPHbAA,41,480.7,123,90],[heatFUPHbAS,177,480.7,122.7,90]];
heatPanels.forEach((hp,k)=>{
  const rows=hp[0].map(s=>s.split("").map(d=>digitToZ[+d]));
  const X=d3.scaleBand().domain(hours).range([hp[1],hp[1]+hp[3]]);
  const Y=d3.scaleBand().domain(d3.range(rows.length)).range([hp[2],hp[2]+hp[4]]);
  const gg=svg.append("g");
  rows.forEach((row,r)=>row.forEach((v,c)=>gg.append("rect").attr("x",X(hours[c])).attr("y",Y(r)).attr("width",X.bandwidth()+.2).attr("height",Y.bandwidth()+.2).attr("fill",cyanYellow(v))));
  if(k>=2){g=svg.append("g").attr("transform",`translate(0,${hp[2]+hp[4]})`).call(d3.axisBottom(X).tickSize(0).tickPadding(3));styleAxis(g,5.2,"#222");}
});
text(106.7,367,"HbAA",{size:9.4,anchor:"middle"});text(237,367,"HbAS",{size:9.4,anchor:"middle"});
text(22,417,"3D7",{size:9.4,anchor:"middle",rot:-90});text(35,419,"155 transcripts",{size:7.4,anchor:"middle",rot:-90});
text(22,528,"FUP",{size:9.4,anchor:"middle",rot:-90});text(35,527,"162 transcripts",{size:7.4,anchor:"middle",rot:-90});
svg.append("rect").attr("x",310).attr("y",425.3).attr("width",4.3).attr("height",89.7).attr("fill","url(#gCy)");
const cc=d3.scaleLinear().domain([-1.5,1.5]).range([515,425.3]);
g=svg.append("g").attr("transform","translate(314.3,0)").call(d3.axisRight(cc).tickValues([-1.5,-1,-.5,0,.5,1,1.5]).tickFormat(d3.format(".1f")).tickSize(1).tickPadding(1.5));styleAxis(g,4.8,"#333");

// ---- D
const dx=d3.scaleLinear().domain([.5,2.7]).range([384.7,674.3]);
const dy=d3.scaleLinear().domain([.5,2]).range([597.7,348]);
const dr=d3.scaleSqrt().domain([-11.8,120]).range([0,11.15]);
const dc=d3.scaleLinear().domain([0,.1,.2,.3]).range(["#fbfafd","#bdbbdc","#6f55a8","#3f007d"]);
const gD=svg.append("g");
gD.append("rect").attr("x",384.7).attr("y",348).attr("width",289.6).attr("height",249.7).attr("fill","#fff");
d3.range(.75,2.6,.25).forEach(v=>gridStyle(gD.append("line").attr("x1",dx(v)).attr("x2",dx(v)).attr("y1",348).attr("y2",597.7)));
d3.range(.6,1.9,.2).forEach(v=>gridStyle(gD.append("line").attr("x1",384.7).attr("x2",674.3).attr("y1",dy(v)).attr("y2",dy(v))));
const order=d3.range(goX.length).sort((a,b)=>goN[b]-goN[a]);
gD.selectAll(".go").data(order).join("circle").attr("cx",i=>dx(goX[i])).attr("cy",i=>dy(goY[i])).attr("r",i=>dr(goN[i]))
  .attr("fill",i=>dc(goP[i])).attr("fill-opacity",.88).attr("stroke",i=>goP[i]>0.02?"#fff":"#6a6a6a").attr("stroke-width",.45);
axisLine(384.7,348,674.3,348,.8,"#8a8a8a");axisLine(674.3,348,674.3,597.7,.8,"#8a8a8a");
g=svg.append("g").attr("transform","translate(0,597.7)").call(d3.axisBottom(dx).tickValues([.5,.75,1,1.25,1.5,1.75,2,2.25,2.5]).tickFormat(d3.format(".2f")).tickSize(2).tickPadding(1.5));styleAxis(g,6,"#333");
g=svg.append("g").attr("transform","translate(384.7,0)").call(d3.axisLeft(dy).tickValues([.6,.8,1,1.2,1.4,1.6,1.8,2]).tickFormat(d3.format(".1f")).tickSize(2).tickPadding(1.5));styleAxis(g,6,"#333");
axisLine(384.7,348,384.7,597.7,.9,"#333");axisLine(384.7,597.7,674.3,597.7,.9,"#333");
text(529.5,615,"Mean 3D7 HbAAvHbAS DTW score of transcripts in GO category",{size:7.4,anchor:"middle"});
text(367,472,"Mean FUP HbAAvHbAS DTW score of transcripts in GO category",{size:7.4,anchor:"middle",rot:-90});
const zx=z=>340+z/3,zy=z=>320+z/3;
[[820,122,853,140],[682,178,720,213],[542,225,549,256],[820,282,845,268],[933,290,943,258],[873,435,848,325],[790,515,772,420],
 [208,585,250,593],[208,585,255,632],[208,585,240,656],[302,716,262,745],[400,788,318,767]].forEach(l=>axisLine(zx(l[0]),zy(l[1]),zx(l[2]),zy(l[3]),.8,"#111"));
const noteText=[["Transcription by RNA polymerase II",716,114,"middle"],["Translational initiation",717,169,"middle"],["Fatty acid biosynthesis",543,210,"middle"],["RNA splicing",765,297,"middle"],
 ["Regulation of",885,307],["translation",885,330],["initiation",885,352],["Ribosome biogenesis",904,451,"middle"],["Regulation of transcription",840,532,"middle"],
 ["Modulation by symbiont of host",142,500],["erythrocyte aggregation, antigenic",142,523],["variation, cytoadherence to",142,545],["microvasculature",142,568],
 ["Regulation of immune",308,710],["response",308,733],["DNA replication initiation",510,801,"middle"]];
noteText.forEach(n=>text(zx(n[1]),zy(n[2]),n[0],{size:5.9,anchor:n[3]||"start",fill:"#444"}));
text(zx(158),zy(126),"Number of transcripts",{size:8.4});
const legY=[168,235,302,365];
sizeLegend.forEach((n,i)=>{svg.append("circle").attr("cx",zx(195)).attr("cy",zy(legY[i])).attr("r",dr(n)).attr("fill","#333");
  text(zx(250),zy(legY[i]+9),d3.format("d")(n),{size:9});});
text(zx(732),zy(648),"Proportion of GO term",{size:8.7});text(zx(732),zy(680),"above DTW threshold",{size:8.7});
const propY=[703,743,782,820];
propLegend.forEach((p,i)=>{svg.append("circle").attr("cx",zx(912)).attr("cy",zy(propY[i])).attr("r",2.8).attr("fill",dc(p));
  text(zx(962),zy(propY[i]+9),d3.format(".1f")(p),{size:8.6});});
</script></body></html>
